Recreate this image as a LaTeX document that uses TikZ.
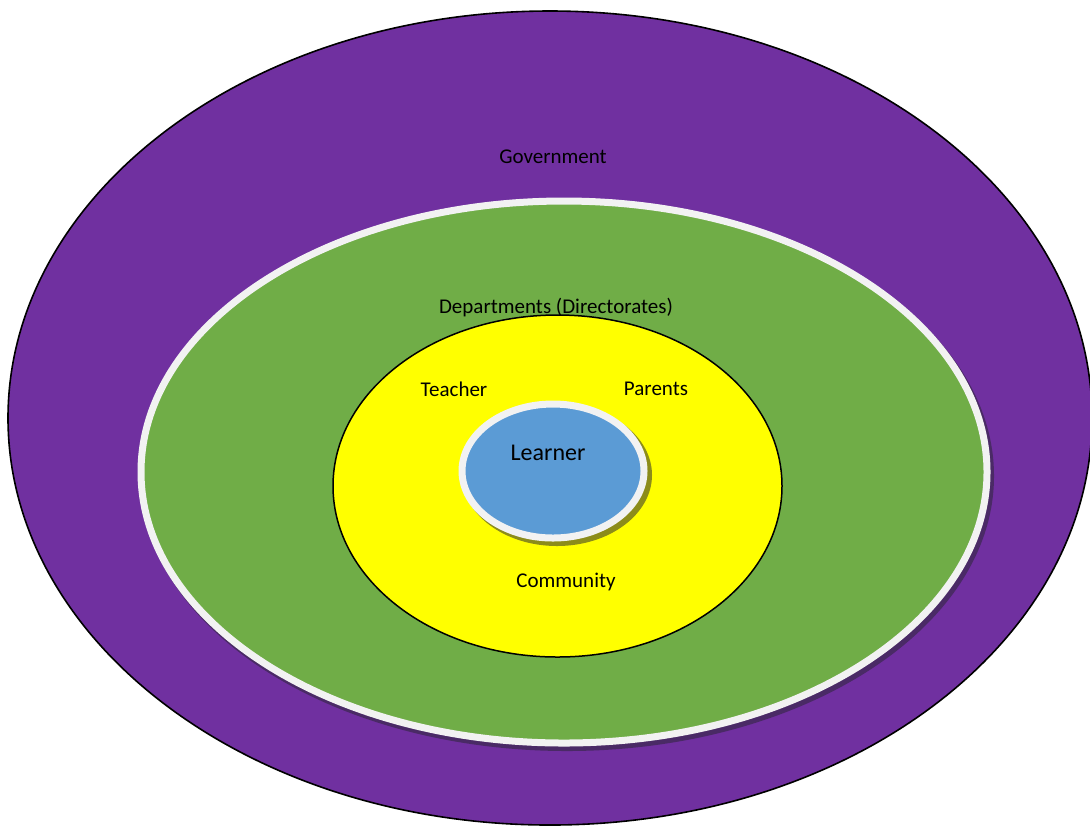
\documentclass[tikz,border=0pt]{standalone}
\usepackage{fontspec}
\setmainfont{Carlito}
\usetikzlibrary{positioning}
\definecolor{govpurple}{HTML}{7030A0}
\definecolor{deptgreen}{HTML}{70AD47}
\definecolor{commyellow}{HTML}{FFFF00}
\definecolor{learnblue}{HTML}{5B9BD5}
\definecolor{ringwhite}{HTML}{F2F2F2}
\definecolor{purpleshade}{HTML}{4A2A66}
\definecolor{yellowshade}{HTML}{8C8C1A}

\begin{document}
\begin{tikzpicture}[
    x=0.5pt, y=-0.5pt,
    lbl/.style={font=\fontsize{10.5}{12}\selectfont, inner sep=0pt},
    ring/.style={draw=ringwhite, line width=3.5pt},
]
    \useasboundingbox (0,0) rectangle (1090,827);

    % Government
    \draw[fill=govpurple, draw=black, line width=0.8pt] (550,418) ellipse [x radius=542, y radius=407];

    % Departments
    \fill[purpleshade] (567,476) ellipse [x radius=427, y radius=275];
    \path[fill=deptgreen, ring] (564,472) ellipse [x radius=423, y radius=271];

    % Community circle
    \draw[fill=commyellow, draw=black, line width=0.75pt] (557.5,486) ellipse [x radius=224.5, y radius=171];

    % Learner
    \fill[yellowshade] (557,475) ellipse [x radius=95, y radius=71];
    \path[fill=learnblue, ring] (553,471) ellipse [x radius=91, y radius=67];

    % Labels
    \node[lbl] (gov) at (553,157) {Government};
    \node[lbl] (dept) at (556,307) {Departments (Directorates)};
    \node[lbl] (teacher) at (454,389) {Teacher};
    \node[lbl] (parents) at (656,389) {Parents};
    \node[lbl, font=\fontsize{12}{14}\selectfont] (learner) at (548,453) {Learner};
    \node[lbl] (comm) at (566,582) {Community};
\end{tikzpicture}
\end{document}
